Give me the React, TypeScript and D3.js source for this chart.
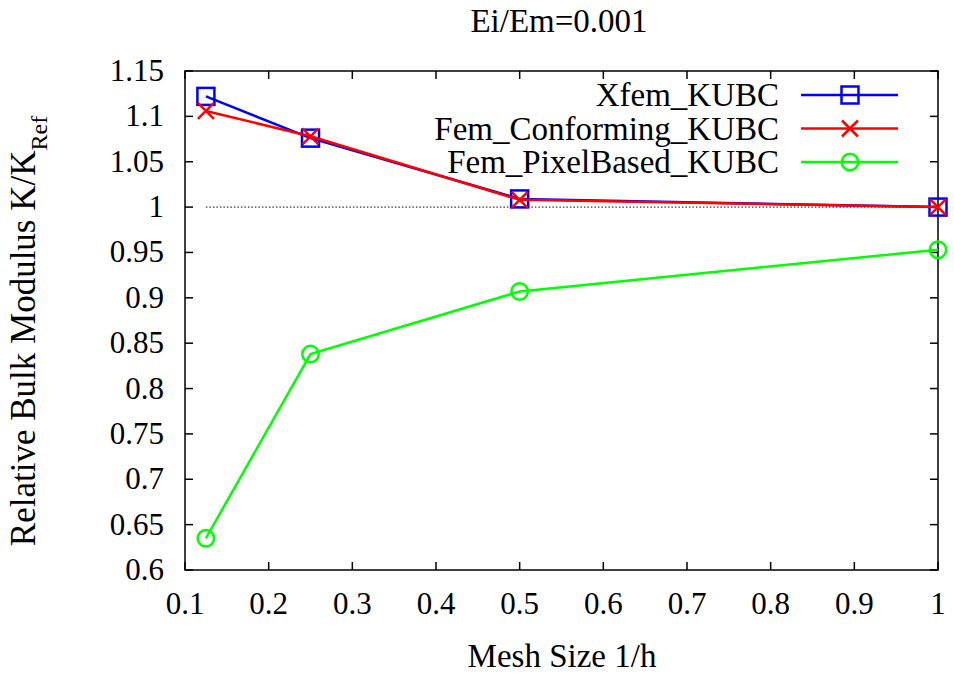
import React from "react";
import * as d3 from "d3";

const meshSize = [0.125, 0.25, 0.5, 1];
const xfem = [1.122, 1.076, 1.009, 1.0];
const femConforming = [1.106, 1.078, 1.008, 1.0];
const femPixel = [0.635, 0.838, 0.907, 0.953];
const xTicks = [0.1, 0.2, 0.3, 0.4, 0.5, 0.6, 0.7, 0.8, 0.9, 1];
const yTicks = [0.6, 0.65, 0.7, 0.75, 0.8, 0.85, 0.9, 0.95, 1, 1.05, 1.1, 1.15];
const seriesNames = ["Xfem_KUBC", "Fem_Conforming_KUBC", "Fem_PixelBased_KUBC"];
const seriesColors = ["#0000ff", "#ff0000", "#00ff00"];
const seriesMarkers = ["square", "cross", "circle"];
const refValue = 1;

const W = 954, H = 675;
const L = 185, R = 938, T = 71, B = 570;
const FF = "Liberation Serif, DejaVu Serif, serif";
const ts: React.CSSProperties = { fontFamily: FF, fontSize: "31px" };
const ls: React.CSSProperties = { fontFamily: FF, fontSize: "33px" };

function Marker({ kind, x, y, color }: { kind: string; x: number; y: number; color: string }) {
  if (kind === "square") return <rect x={x - 8.5} y={y - 8.5} width={17} height={17} fill="none" stroke={color} strokeWidth={2.5} />;
  if (kind === "cross") return <path d={`M${x - 8},${y - 8}L${x + 8},${y + 8}M${x - 8},${y + 8}L${x + 8},${y - 8}`} stroke={color} strokeWidth={2.5} />;
  return <circle cx={x} cy={y} r={8.2} fill="none" stroke={color} strokeWidth={2.5} />;
}

export default function App() {
  const x = d3.scaleLinear().domain([0.1, 1]).range([L, R]);
  const y = d3.scaleLinear().domain([0.6, 1.15]).range([B, T]);
  const series = [xfem, femConforming, femPixel];
  const line = d3.line<number>().x((_, i) => x(meshSize[i])).y((d) => y(d));
  const tick = 8;
  return (
    <svg width={W} height={H} style={{ position: "absolute", left: 0, top: 0, background: "#fff" }}>
      <text x={559} y={32} style={ls} textAnchor="middle">Ei/Em=0.001</text>
      <line x1={x(meshSize[0])} x2={x(1)} y1={y(refValue)} y2={y(refValue)} stroke="#000" strokeWidth={1} strokeDasharray="1.5,2" />
      {xTicks.map((t) => (
        <g key={"x" + t}>
          <line x1={x(t)} x2={x(t)} y1={B} y2={B - tick} stroke="#000" strokeWidth={1.5} />
          <line x1={x(t)} x2={x(t)} y1={T} y2={T + tick} stroke="#000" strokeWidth={1.5} />
          <text x={x(t)} y={614} style={ts} textAnchor="middle">{String(t)}</text>
        </g>
      ))}
      {yTicks.map((t) => (
        <g key={"y" + t}>
          <line x1={L} x2={L + tick} y1={y(t)} y2={y(t)} stroke="#000" strokeWidth={1.5} />
          <line x1={R} x2={R - tick} y1={y(t)} y2={y(t)} stroke="#000" strokeWidth={1.5} />
          <text x={164} y={y(t) + 10} style={ts} textAnchor="end">{String(t)}</text>
        </g>
      ))}
      <rect x={L} y={T} width={R - L} height={B - T} fill="none" stroke="#000" strokeWidth={1.5} />
      {series.map((s, si) => (
        <g key={si}>
          <path d={line(s) || ""} fill="none" stroke={seriesColors[si]} strokeWidth={2.5} />
          {s.map((v, i) => (
            <Marker key={i} kind={seriesMarkers[si]} x={x(meshSize[i])} y={y(v)} color={seriesColors[si]} />
          ))}
        </g>
      ))}
      {seriesNames.map((n, i) => {
        const ly = 95 + i * 33.5;
        return (
          <g key={n}>
            <text x={779} y={ly + 11} style={ls} textAnchor="end">{n}</text>
            <line x1={801} x2={898} y1={ly} y2={ly} stroke={seriesColors[i]} strokeWidth={2.5} />
            <Marker kind={seriesMarkers[i]} x={850} y={ly} color={seriesColors[i]} />
          </g>
        );
      })}
      <text x={562} y={667} style={ls} textAnchor="middle">Mesh Size 1/h</text>
      <text transform={`translate(35,331) rotate(-90)`} style={{ fontFamily: FF, fontSize: "35px" }} textAnchor="middle">
        Relative Bulk Modulus K/K<tspan dy={12} style={{ fontSize: "24px" }}>Ref</tspan>
      </text>
    </svg>
  );
}
